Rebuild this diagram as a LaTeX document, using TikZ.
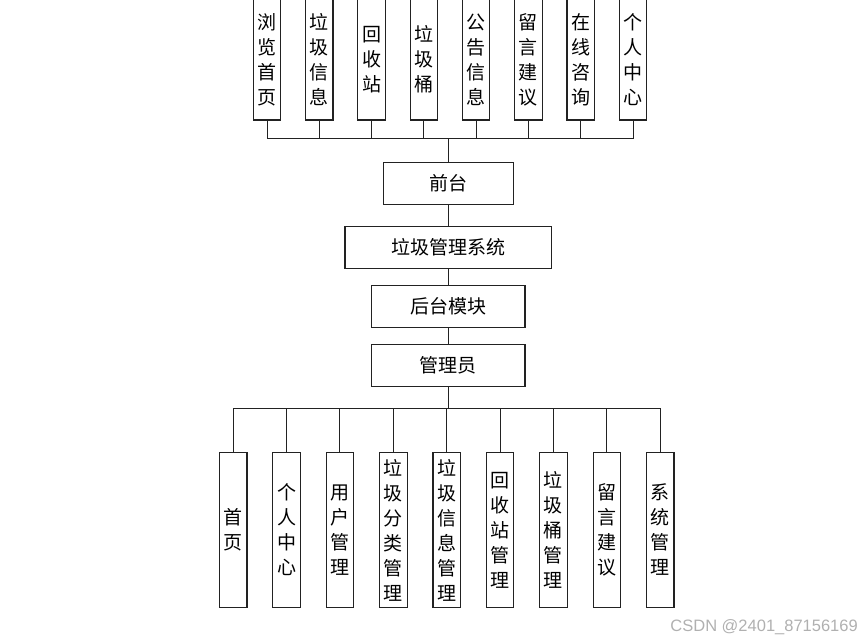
\documentclass[tikz,border=0pt]{standalone}
\usepackage{fontspec}
\newfontfamily\cjk{Noto Sans CJK SC}
\newfontfamily\wmfont{Liberation Sans}
\definecolor{bordc}{HTML}{222222}
\definecolor{wmc}{HTML}{B0B0B0}
\begin{document}
\begin{tikzpicture}[x=1pt,y=-1pt,
  box/.style={draw=bordc,line width=1.1pt,fill=white,inner sep=0pt,align=center,
    font=\cjk\fontsize{19}{25}\selectfont},
  vbox/.style={box,minimum width=27.5pt},
  tbox/.style={vbox,minimum height=121pt},
  bbox/.style={vbox,minimum height=154.6pt},
  hbox/.style={box,minimum height=41.7pt},
  conn/.style={draw=bordc,line width=1pt}]
\useasboundingbox (0,0) rectangle (863,642);
% top row
\foreach \t [count=\i from 0] in {浏\\览\\首\\页,垃\\圾\\信\\息,回\\收\\站,垃\\圾\\桶,公\\告\\信\\息,留\\言\\建\\议,在\\线\\咨\\询,个\\人\\中\\心}{
  \node[tbox] (t\i) at ({267+\i*52.29},59.5) {\t};
}
% middle column
\node[hbox,minimum width=130pt] (qt) at (448.3,183.2) {前台};
\node[hbox,minimum width=206.7pt] (sys) at (448.3,247.2) {垃圾管理系统};
\node[hbox,minimum width=153.3pt] (ht) at (448.3,306.2) {后台模块};
\node[hbox,minimum width=153.3pt] (gly) at (448.3,365.7) {管理员};
% bottom row
\foreach \t [count=\i from 0] in {首\\页,个\\人\\中\\心,用\\户\\管\\理,垃\\圾\\分\\类\\管\\理,垃\\圾\\信\\息\\管\\理,回\\收\\站\\管\\理,垃\\圾\\桶\\管\\理,留\\言\\建\\议,系\\统\\管\\理}{
  \node[bbox] (b\i) at ({233.2+\i*53.375},530) {\t};
}
% connectors
\coordinate (bt) at (448.3,138.3);
\coordinate (bb) at (448.3,408.3);
\foreach \i in {0,...,7}{\draw[conn] (t\i.south) |- (bt);}
\draw[conn] (bt) -- (qt.north);
\draw[conn] (qt.south) -- (sys.north);
\draw[conn] (sys.south) -- (ht.north);
\draw[conn] (ht.south) -- (gly.north);
\draw[conn] (gly.south) -- (bb);
\foreach \i in {0,...,8}{\draw[conn] (b\i.north) |- (bb);}
% watermark
\node[anchor=east,inner sep=0pt,text=wmc,font=\wmfont\fontsize{16.5}{16.5}\selectfont] (wm) at (858,627) {CSDN @2401\_87156169};
\end{tikzpicture}
\end{document}
